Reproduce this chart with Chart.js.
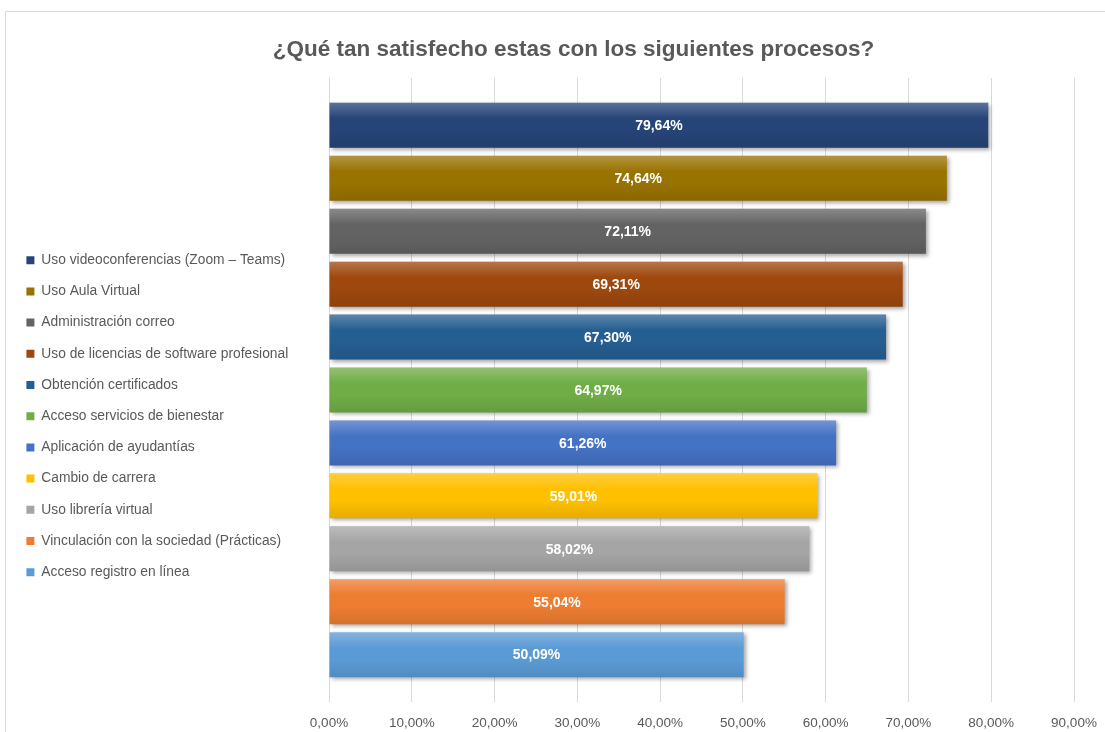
<!DOCTYPE html>
<html lang="es">
<head>
<meta charset="utf-8">
<title>Satisfacción con los procesos</title>
<script src="https://cdn.jsdelivr.net/npm/chart.js@4.4.1/dist/chart.umd.min.js"></script>
<style>
    html, body {
        margin: 0;
        padding: 0;
        background: #ffffff;
        overflow: hidden;
    }
    #marco {
        position: absolute;
        left: 5px;
        top: 11px;
        width: 1132px;
        height: 740px;
        border-top: 1px solid #d9d9d9;
        border-left: 1px solid #d9d9d9;
    }
</style>
</head>
<body>
<div id="marco">
    <canvas id="grafico" width="1132" height="740"></canvas>
</div>
<script>
// Datos
const procesos = [
    "Uso videoconferencias (Zoom – Teams)",
    "Uso Aula Virtual",
    "Administración correo",
    "Uso de licencias de software profesional",
    "Obtención certificados",
    "Acceso servicios de bienestar",
    "Aplicación de ayudantías",
    "Cambio de carrera",
    "Uso librería virtual",
    "Vinculación con la sociedad (Prácticas)",
    "Acceso registro en línea"
];
const porcentajes = [79.64, 74.64, 72.11, 69.31, 67.30, 64.97, 61.26, 59.01, 58.02, 55.04, 50.09];
const colores = ["#264478", "#997300", "#636363", "#9e480e", "#255e91", "#70ad47", "#4472c4", "#ffc000", "#a5a5a5", "#ed7d31", "#5b9bd5"];
const etiquetasEje = ["0,00%", "10,00%", "20,00%", "30,00%", "40,00%", "50,00%", "60,00%", "70,00%", "80,00%", "90,00%"];

const TEXTO = "#595959";
const FUENTE = "'Liberation Sans', Arial, sans-serif";
const BORDE_IZQ = 323; // donde empieza el área del gráfico
const MARGEN_DER = 64;  // espacio libre a la derecha del 90%

// Un dataset por proceso, todos en una sola categoría
const datasets = procesos.map(function(nombre, i) {
    return {
        label: nombre,
        data: [porcentajes[i]],
        backgroundColor: colores[i],
        borderWidth: 0,
        categoryPercentage: 0.933,
        barPercentage: 0.85
    };
});

// Sombra debajo de cada barra
const sombraBarras = {
    id: "sombraBarras",
    beforeDatasetDraw(chart) {
        const ctx = chart.ctx;
        ctx.save();
        ctx.shadowColor = "rgba(0, 0, 0, 0.35)";
        ctx.shadowBlur = 4;
        ctx.shadowOffsetX = 2;
        ctx.shadowOffsetY = 2;
    },
    afterDatasetDraw(chart) {
        chart.ctx.restore();
    }
};

// Brillo arriba, un poco más oscuro abajo, y el valor en blanco
const brilloYEtiquetas = {
    id: "brilloYEtiquetas",
    afterDatasetsDraw(chart) {
        const ctx = chart.ctx;
        chart.data.datasets.forEach(function(ds, i) {
            const meta = chart.getDatasetMeta(i);
            if (meta.hidden) return;
            meta.data.forEach(function(barra, j) {
                const arriba = barra.y - barra.height / 2;
                const abajo = barra.y + barra.height / 2;
                const izq = Math.min(barra.base, barra.x);
                const ancho = Math.abs(barra.x - barra.base);

                const grad = ctx.createLinearGradient(0, arriba, 0, abajo);
                grad.addColorStop(0, "rgba(255,255,255,0.25)");
                grad.addColorStop(0.35, "rgba(255,255,255,0)");
                grad.addColorStop(0.6, "rgba(0,0,0,0)");
                grad.addColorStop(1, "rgba(0,0,0,0.10)");
                ctx.save();
                ctx.fillStyle = grad;
                ctx.fillRect(izq, arriba, ancho, barra.height);
                ctx.restore();

                const valor = ds.data[j];
                ctx.save();
                ctx.fillStyle = "#ffffff";
                ctx.font = "bold 14px " + FUENTE;
                ctx.textAlign = "center";
                ctx.textBaseline = "middle";
                ctx.fillText(valor.toFixed(2).replace(".", ",") + "%", izq + ancho / 2, barra.y + 1);
                ctx.restore();
            });
        });
    }
};

const ctx = document.getElementById("grafico").getContext("2d");

new Chart(ctx, {
    type: "bar",
    data: {
        labels: [""],
        datasets: datasets
    },
    plugins: [sombraBarras, brilloYEtiquetas],
    options: {
        indexAxis: "y",
        responsive: false,
        animation: false,
        layout: {
            padding: { left: 3, right: 0, top: 0, bottom: 0 }
        },
        plugins: {
            title: {
                display: true,
                text: "¿Qué tan satisfecho estas con los siguientes procesos?",
                color: TEXTO,
                font: { family: FUENTE, size: 22.5, weight: "bold" },
                padding: { top: 24, bottom: 15 }
            },
            legend: {
                position: "left",
                maxWidth: 320,
                title: {
                    display: true,
                    text: "",
                    padding: { top: 0, bottom: 54 }
                },
                labels: {
                    boxWidth: 8,
                    boxHeight: 8,
                    padding: 17.4,
                    color: TEXTO,
                    font: { family: FUENTE, size: 13.8 }
                }
            },
            tooltip: { enabled: false }
        },
        scales: {
            x: {
                min: 0,
                max: 90,
                ticks: {
                    stepSize: 10,
                    padding: 13,
                    maxRotation: 0,
                    color: TEXTO,
                    font: { family: FUENTE, size: 13.5 },
                    callback: function(valor, indice) {
                        return etiquetasEje[indice];
                    }
                },
                grid: {
                    color: "#d9d9d9",
                    lineWidth: 1,
                    drawTicks: false
                },
                border: { display: false },
                afterFit: function(escala) {
                    escala.height = 50;
                }
            },
            y: {
                ticks: { display: false },
                grid: { display: false },
                border: { display: false },
                afterFit: function(escala) {
                    const leyenda = escala.chart.legend;
                    escala.width = Math.max(0, BORDE_IZQ - 3 - leyenda.width);
                }
            },
            // eje vacío a la derecha, solo reserva espacio
            derecha: {
                type: "category",
                labels: [""],
                position: "right",
                ticks: { display: false },
                grid: { display: false },
                border: { display: false },
                afterFit: function(escala) {
                    escala.width = MARGEN_DER;
                }
            }
        }
    }
});
</script>
</body>
</html>
